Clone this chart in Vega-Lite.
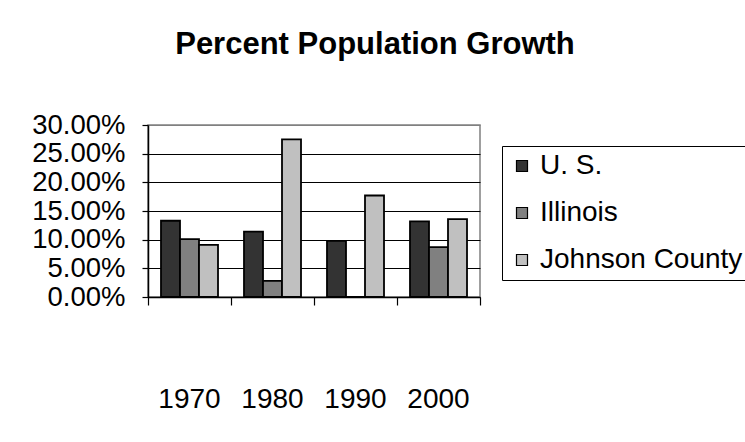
{
  "$schema": "https://vega.github.io/schema/vega-lite/v6.json",
  "width": 332,
  "height": 172,
  "autosize": {"type": "none"},
  "padding": {"left": 148, "top": 125, "right": 265, "bottom": 145},
  "background": "white",
  "title": {
    "text": "Percent Population Growth",
    "font": "Liberation Sans",
    "fontSize": 31,
    "fontWeight": "bold",
    "color": "black",
    "anchor": "middle",
    "frame": "group",
    "dx": 61,
    "offset": 50
  },
  "data": {
    "values": [
      {"year": "1970", "region": "U. S.", "growth": 0.133},
      {"year": "1970", "region": "Illinois", "growth": 0.101},
      {"year": "1970", "region": "Johnson County", "growth": 0.091},
      {"year": "1980", "region": "U. S.", "growth": 0.114},
      {"year": "1980", "region": "Illinois", "growth": 0.028},
      {"year": "1980", "region": "Johnson County", "growth": 0.275},
      {"year": "1990", "region": "U. S.", "growth": 0.098},
      {"year": "1990", "region": "Illinois", "growth": 0.0},
      {"year": "1990", "region": "Johnson County", "growth": 0.177},
      {"year": "2000", "region": "U. S.", "growth": 0.132},
      {"year": "2000", "region": "Illinois", "growth": 0.087},
      {"year": "2000", "region": "Johnson County", "growth": 0.136}
    ]
  },
  "mark": {"type": "bar", "stroke": "black", "strokeWidth": 1.8},
  "encoding": {
    "x": {
      "field": "year",
      "type": "nominal",
      "scale": {"paddingInner": 0, "paddingOuter": 0},
      "axis": {
        "title": null,
        "bandPosition": 1,
        "tickExtra": true,
        "labelOffset": 0,
        "labelAngle": 0,
        "labelFont": "Liberation Sans",
        "labelFontSize": 28,
        "labelColor": "black",
        "labelPadding": 80,
        "tickColor": "black",
        "tickSize": 8,
        "tickWidth": 1.2,
        "domainColor": "black",
        "domainWidth": 1.5,
        "grid": false
      }
    },
    "xOffset": {
      "field": "region",
      "type": "nominal",
      "sort": ["U. S.", "Illinois", "Johnson County"],
      "scale": {"paddingInner": 0, "paddingOuter": 0.684}
    },
    "y": {
      "field": "growth",
      "type": "quantitative",
      "scale": {"domain": [0, 0.3], "nice": false},
      "axis": {
        "title": null,
        "format": ".2%",
        "values": [0, 0.05, 0.1, 0.15, 0.2, 0.25, 0.3],
        "grid": true,
        "gridColor": {"condition": {"test": "datum.value >= 0.29", "value": "#808080"}, "value": "black"},
        "gridWidth": 1.2,
        "domainColor": "black",
        "domainWidth": 1.5,
        "tickColor": "black",
        "tickWidth": 1.2,
        "tickSize": 6,
        "labelPadding": 17,
        "labelFont": "Liberation Sans",
        "labelFontSize": 27.5,
        "labelColor": "black"
      }
    },
    "color": {
      "field": "region",
      "type": "nominal",
      "scale": {
        "domain": ["U. S.", "Illinois", "Johnson County"],
        "range": ["#333333", "#808080", "#c0c0c0"]
      },
      "legend": {
        "title": null,
        "orient": "none",
        "legendX": 354,
        "legendY": 21,
        "strokeColor": "black",
        "fillColor": "white",
        "padding": 6,
        "symbolType": "square",
        "symbolSize": 121,
        "symbolStrokeColor": "black",
        "symbolStrokeWidth": 1.2,
        "symbolOpacity": 1,
        "labelFont": "Liberation Sans",
        "labelFontSize": 28,
        "labelColor": "black",
        "labelLimit": 400,
        "rowPadding": 19,
        "labelOffset": 4
      }
    }
  },
  "config": {"view": {"stroke": "#808080", "strokeWidth": 1.5}}
}
